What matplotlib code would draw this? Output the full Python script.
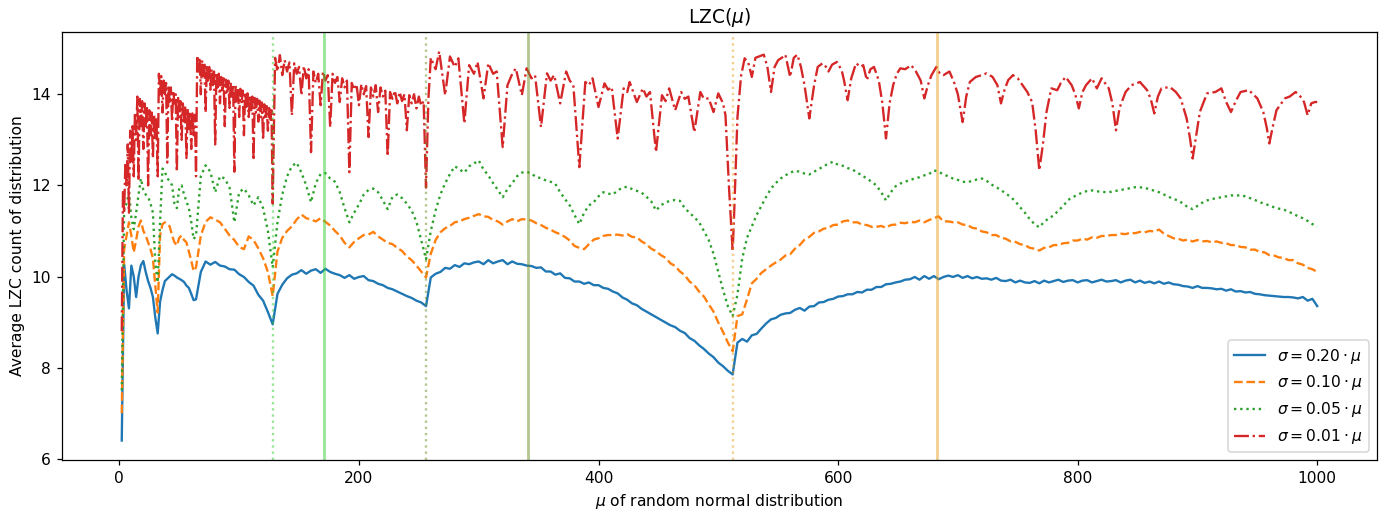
import numpy as np
import matplotlib
matplotlib.use("Agg")
import matplotlib.pyplot as plt

# ---- x grid for the three smoother series ----
grid_mu = list(range(2, 64, 2)) + list(range(64, 1001, 4))

sigma20 = [
    6.4, 10.27, 9.7, 9.3, 10.24, 10.0, 9.55, 10.0, 10.25, 10.34,
    10.1, 9.9, 9.75, 9.55, 9.1, 8.75, 9.45, 9.7, 9.9, 9.95,
    10.0, 10.05, 10.02, 9.98, 9.95, 9.92, 9.88, 9.8, 9.75, 9.62,
    9.48,
    9.5, 10.1, 10.33, 10.26, 10.32, 10.24, 10.22, 10.16, 10.15, 10.05,
    9.99, 9.88, 9.8, 9.6, 9.47, 9.22, 8.95, 9.62, 9.82, 9.96,
    10.04, 10.07, 10.14, 10.06, 10.13, 10.16, 10.08, 10.17, 10.1, 10.06,
    10.03, 9.97, 10.03, 9.95, 9.99, 10.01, 9.92, 9.9, 9.84, 9.81,
    9.75, 9.72, 9.67, 9.62, 9.57, 9.53, 9.47, 9.43, 9.35, 9.98,
    10.06, 10.1, 10.19, 10.17, 10.25, 10.21, 10.29, 10.27, 10.31, 10.33,
    10.27, 10.36, 10.29, 10.33, 10.36, 10.27, 10.33, 10.28, 10.27, 10.24,
    10.23, 10.19, 10.2, 10.11, 10.11, 10.04, 10.07, 9.97, 9.96, 9.89,
    9.89, 9.84, 9.87, 9.81, 9.81, 9.75, 9.73, 9.67, 9.63, 9.54,
    9.49, 9.41, 9.37, 9.29, 9.23, 9.17, 9.11, 9.05, 8.99, 8.93,
    8.89, 8.81, 8.76, 8.65, 8.59, 8.49, 8.41, 8.31, 8.23, 8.11,
    8.03, 7.93, 7.85, 8.55, 8.63, 8.57, 8.71, 8.74, 8.86, 8.97,
    9.06, 9.09, 9.16, 9.19, 9.2, 9.27, 9.31, 9.25, 9.34, 9.35,
    9.43, 9.44, 9.49, 9.51, 9.56, 9.57, 9.61, 9.61, 9.66, 9.65,
    9.71, 9.71, 9.77, 9.77, 9.83, 9.84, 9.87, 9.89, 9.93, 9.94,
    9.99, 9.93, 10.01, 9.95, 10.01, 9.94, 9.99, 10.02, 9.99, 10.03,
    9.97, 10.01, 9.96, 9.99, 9.95, 9.96, 9.93, 9.97, 9.91, 9.9,
    9.93, 9.87, 9.91, 9.87, 9.86, 9.9, 9.85, 9.91, 9.87, 9.9,
    9.93, 9.88, 9.91, 9.92, 9.87, 9.91, 9.92, 9.87, 9.9, 9.93,
    9.89, 9.9, 9.92, 9.87, 9.91, 9.93, 9.87, 9.91, 9.86, 9.89,
    9.85, 9.89, 9.84, 9.87, 9.83, 9.82, 9.79, 9.78, 9.75, 9.79,
    9.75, 9.75, 9.74, 9.72, 9.73, 9.69, 9.72, 9.67, 9.68, 9.65,
    9.66, 9.62, 9.61, 9.59, 9.58, 9.57, 9.56, 9.55, 9.55, 9.54,
    9.52, 9.55, 9.47, 9.51, 9.35,
]

sigma10 = [
    7.0, 10.6, 10.9, 11.19, 10.9, 10.53, 10.8, 11.1, 11.23, 11.0,
    10.9, 10.75, 10.6, 10.4, 9.8, 9.21, 10.9, 11.15, 11.19, 11.15,
    11.1, 10.9, 10.75, 10.68, 10.85, 10.9, 10.8, 10.75, 10.55, 10.35,
    10.12,
    10.2, 10.9, 11.2, 11.3, 11.25, 11.19, 11.05, 10.9, 10.8, 10.65,
    10.6, 10.88, 10.8, 10.62, 10.4, 10.1, 9.57, 10.55, 10.85, 11.0,
    11.1, 11.25, 11.36, 11.28, 11.25, 11.21, 11.28, 11.2, 11.12, 11.0,
    10.9, 10.74, 10.64, 10.76, 10.84, 10.91, 10.92, 10.98, 10.88, 10.81,
    10.74, 10.71, 10.63, 10.56, 10.44, 10.36, 10.24, 10.11, 9.98, 10.5,
    10.8, 10.97, 11.06, 11.11, 11.19, 11.21, 11.26, 11.29, 11.33, 11.37,
    11.32, 11.31, 11.24, 11.21, 11.14, 11.21, 11.26, 11.21, 11.26, 11.25,
    11.23, 11.17, 11.13, 11.07, 11.03, 10.97, 10.93, 10.87, 10.79, 10.67,
    10.63, 10.6, 10.71, 10.81, 10.84, 10.89, 10.91, 10.91, 10.92, 10.9,
    10.93, 10.87, 10.86, 10.77, 10.71, 10.61, 10.56, 10.47, 10.41, 10.29,
    10.23, 10.11, 10.03, 9.89, 9.81, 9.67, 9.56, 9.39, 9.23, 8.99,
    8.78, 8.55, 8.36, 9.13, 9.17, 9.5, 9.85, 9.95, 10.08, 10.16,
    10.24, 10.31, 10.37, 10.46, 10.49, 10.61, 10.69, 10.81, 10.87, 10.96,
    10.99, 11.05, 11.07, 11.13, 11.14, 11.21, 11.23, 11.19, 11.19, 11.14,
    11.13, 11.09, 11.09, 11.11, 11.07, 11.13, 11.14, 11.18, 11.17, 11.2,
    11.19, 11.23, 11.19, 11.24, 11.28, 11.32, 11.21, 11.21, 11.19, 11.19,
    11.14, 11.13, 11.07, 11.05, 10.99, 10.97, 10.91, 10.91, 10.85, 10.83,
    10.77, 10.76, 10.71, 10.69, 10.63, 10.61, 10.57, 10.63, 10.64, 10.69,
    10.69, 10.73, 10.74, 10.79, 10.79, 10.83, 10.81, 10.86, 10.85, 10.89,
    10.89, 10.91, 10.91, 10.94, 10.93, 10.96, 10.95, 10.98, 10.97, 11.0,
    10.99, 11.03, 10.94, 10.89, 10.84, 10.83, 10.79, 10.81, 10.77, 10.8,
    10.77, 10.78, 10.75, 10.77, 10.74, 10.73, 10.69, 10.69, 10.65, 10.64,
    10.59, 10.59, 10.54, 10.53, 10.47, 10.46, 10.42, 10.41, 10.36, 10.36,
    10.29, 10.26, 10.19, 10.16, 10.1,
]

sigma05 = [
    7.5, 11.5, 11.6, 11.85, 11.3, 11.04, 11.4, 11.8, 12.15, 11.9,
    11.8, 11.75, 11.6, 11.4, 10.3, 9.87, 11.2, 12.37, 12.3, 12.15,
    12.1, 12.0, 11.6, 11.5, 11.95, 12.0, 11.8, 11.65, 11.5, 11.2,
    10.82,
    10.9, 12.2, 12.44, 12.3, 11.85, 12.2, 12.15, 11.95, 11.19, 11.85,
    11.93, 11.78, 11.56, 11.74, 11.5, 11.0, 10.2, 11.2, 11.8, 12.2,
    12.42, 12.5, 12.28, 12.0, 11.63, 12.05, 12.25, 12.27, 12.15, 12.08,
    11.85, 11.5, 11.19, 11.4, 11.58, 11.8, 11.9, 11.93, 11.85, 11.67,
    11.48, 11.75, 11.8, 11.72, 11.6, 11.45, 11.2, 10.8, 10.38, 11.0,
    11.45, 11.8, 12.05, 12.25, 12.42, 12.35, 12.28, 12.42, 12.48, 12.55,
    12.35, 12.22, 12.05, 11.9, 11.74, 11.92, 12.05, 12.2, 12.28, 12.3,
    12.26, 12.18, 12.16, 12.11, 12.08, 12.03, 11.85, 11.7, 11.56, 11.35,
    11.15, 11.4, 11.56, 11.63, 11.76, 11.85, 11.82, 11.8, 11.89, 11.95,
    11.97, 11.92, 11.88, 11.84, 11.75, 11.65, 11.45, 11.56, 11.63, 11.66,
    11.68, 11.66, 11.5, 11.4, 11.3, 11.19, 11.0, 10.8, 10.5, 10.1,
    9.7, 9.35, 9.13, 9.6, 10.4, 10.85, 11.1, 11.35, 11.55, 11.75,
    11.93, 12.05, 12.15, 12.22, 12.28, 12.32, 12.3, 12.26, 12.24, 12.3,
    12.36, 12.42, 12.48, 12.52, 12.45, 12.43, 12.38, 12.35, 12.28, 12.22,
    12.15, 12.08, 12.0, 11.85, 11.67, 11.85, 11.98, 12.04, 12.08, 12.12,
    12.15, 12.18, 12.22, 12.25, 12.33, 12.3, 12.24, 12.2, 12.15, 12.12,
    12.08, 12.07, 12.1, 12.13, 12.15, 12.1, 12.02, 11.96, 11.9, 11.82,
    11.75, 11.65, 11.52, 11.4, 11.26, 11.15, 11.08, 11.2, 11.28, 11.34,
    11.45, 11.55, 11.68, 11.74, 11.8, 11.84, 11.88, 11.89, 11.87, 11.86,
    11.85, 11.86, 11.88, 11.9, 11.92, 11.94, 11.96, 11.96, 11.94, 11.92,
    11.88, 11.85, 11.8, 11.75, 11.7, 11.67, 11.6, 11.52, 11.48, 11.55,
    11.62, 11.67, 11.7, 11.72, 11.74, 11.76, 11.78, 11.78, 11.78, 11.76,
    11.72, 11.68, 11.63, 11.6, 11.56, 11.52, 11.49, 11.47, 11.42, 11.38,
    11.32, 11.28, 11.22, 11.15, 11.1,
]

# ---- sigma = 0.01 * mu : own, denser sampling ----
red_mu_a = list(range(2, 65))
red_a = [
    8.8, 11.9, 11.4, 12.5, 12.0, 12.9, 11.4, 13.2, 12.5, 13.3,
    12.2, 13.6, 13.0, 13.95, 12.1, 13.9, 13.3, 13.85, 12.8, 13.8,
    13.3, 13.75, 12.0, 13.65, 13.1, 13.6, 12.6, 13.55, 13.0, 13.5,
    12.2, 14.45, 14.0, 14.4, 13.6, 14.3, 14.0, 14.25, 12.5, 14.2,
    13.8, 14.15, 13.4, 14.08, 13.8, 14.0, 12.3, 13.95, 13.5, 13.85,
    13.0, 13.8, 13.4, 13.75, 12.6, 13.68, 13.2, 13.62, 12.8, 13.58,
    13.1, 13.55, 12.2,
]
red_mu_b = list(range(65, 128))
red_b = [
    14.85, 14.5, 14.8, 14.0, 14.75, 14.4, 14.7, 13.6, 14.65, 14.3,
    14.6, 14.1, 14.55, 14.2, 14.5, 12.9, 14.48, 14.15, 14.45, 13.8,
    14.38, 14.05, 14.35, 13.3, 14.32, 14.0, 14.3, 13.7, 14.26, 13.95,
    14.22, 12.3, 14.2, 13.85, 14.15, 13.5, 14.12, 13.8, 14.08, 13.1,
    14.05, 13.72, 14.02, 13.5, 13.98, 13.65, 13.95, 12.55, 13.92, 13.6,
    13.9, 13.4, 13.86, 13.5, 13.82, 13.0, 13.78, 13.45, 13.74, 13.2,
    13.7, 13.4, 13.65,
]
red_mu_c = list(range(128, 257, 2))
red_c = [
    11.6, 14.8, 14.5, 14.86, 14.42, 14.75, 14.5, 14.7, 13.54, 14.68,
    14.45, 14.6, 13.98, 14.62, 14.35, 14.55, 12.73, 14.5, 14.25, 14.45,
    13.76, 14.5, 14.3, 14.42, 13.28, 14.45, 14.25, 14.38, 13.83, 14.35,
    14.15, 14.3, 12.29, 14.25, 14.1, 14.22, 13.76, 14.22, 14.0, 14.18,
    13.06, 14.15, 13.95, 14.2, 13.61, 14.15, 13.95, 14.08, 12.64, 14.05,
    13.9, 14.08, 13.8, 14.05, 13.85, 14.0, 13.21, 13.98, 13.8, 14.0,
    13.69, 13.95, 13.75, 13.85, 11.95,
]
red_tail = [
    (258, 13.9), (260, 14.8), (264, 14.55), (267, 14.94), (272, 13.98), (276, 14.83), (280, 14.6), (283, 14.79), (288, 13.36), (292, 14.64),
    (296, 14.45), (299, 14.71), (304, 13.91), (308, 14.68), (312, 14.45), (315, 14.5), (320, 12.84), (324, 14.2), (328, 14.45), (331, 14.57),
    (336, 13.98), (340, 14.57), (344, 14.35), (347, 14.42), (352, 13.28), (357, 14.46), (360, 14.3), (363, 14.42), (368, 13.8), (373, 14.5),
    (376, 14.3), (379, 14.2), (384, 12.4), (389, 14.27), (392, 14.2), (395, 14.35), (400, 13.72), (405, 14.24), (408, 14.1), (411, 14.16),
    (416, 13.03), (421, 14.13), (424, 14.05), (426, 14.27), (432, 13.83), (437, 14.13), (440, 13.95), (443, 14.05), (448, 12.73), (453, 13.98),
    (456, 13.85), (459, 14.13), (464, 13.65), (469, 14.05), (472, 13.9), (475, 13.95), (480, 13.17), (485, 14.05), (488, 13.9), (492, 13.91),
    (496, 13.61), (500, 14.02), (504, 13.8), (506, 13.54), (509, 11.93), (512, 10.55),
    (513, 11.2), (516, 13.5), (519, 14.4), (522, 14.79), (525, 14.7), (528, 14.38), (531, 14.8), (534, 14.83), (538, 14.87), (541, 14.6),
    (544, 14.05), (547, 14.6), (550, 14.75), (553, 14.8), (556, 14.87), (560, 14.38), (563, 14.8), (566, 14.87), (569, 14.6), (572, 14.2),
    (576, 13.47), (580, 14.2), (583, 14.6), (587, 14.68), (590, 14.6), (592, 14.5), (595, 14.65), (599, 14.71), (603, 14.53), (605, 14.3),
    (608, 13.87), (611, 14.35), (615, 14.68), (619, 14.6), (621, 14.64), (624, 14.31), (627, 14.55), (630, 14.6), (634, 14.3), (637, 13.8),
    (640, 13.03), (643, 13.8), (646, 14.2), (649, 14.45), (652, 14.57), (656, 14.55), (661, 14.64), (665, 14.5), (669, 14.3), (672, 13.91),
    (675, 14.2), (678, 14.42), (682, 14.6), (685, 14.45), (688, 14.42), (693, 14.5), (697, 14.25), (700, 14.0), (704, 13.39), (707, 13.95),
    (710, 14.27), (715, 14.38), (720, 14.42), (724, 14.46), (729, 14.38), (733, 14.2), (736, 13.8), (739, 14.1), (742, 14.31), (746, 14.42),
    (750, 14.35), (754, 14.2), (758, 14.05), (762, 13.83), (765, 13.2), (768, 12.33), (771, 12.9), (774, 13.61), (778, 14.13), (783, 14.09),
    (786, 14.25), (790, 14.38), (795, 14.2), (798, 14.0), (801, 13.69), (804, 14.05), (807, 14.2), (812, 14.35), (816, 14.13), (820, 14.35),
    (826, 14.13), (829, 13.8), (832, 13.21), (835, 13.7), (840, 14.05), (845, 14.2), (852, 14.27), (858, 14.09), (861, 13.9), (864, 13.58),
    (867, 13.95), (870, 14.13), (877, 14.16), (882, 14.05), (886, 13.91), (891, 13.47), (894, 13.0), (896, 12.59), (899, 13.1), (902, 13.61),
    (908, 14.02), (915, 14.05), (920, 14.13), (924, 13.83), (928, 13.61), (932, 13.85), (936, 14.05), (943, 14.09), (950, 13.91), (955, 13.61),
    (958, 13.25), (960, 12.92), (963, 13.3), (966, 13.65), (973, 13.91), (977, 13.95), (982, 14.05), (986, 13.95), (989, 13.83), (992, 13.54),
    (995, 13.8), (998, 13.83), (1000, 13.83),
]

labels = [r"$\sigma = 0.20 \cdot \mu$", r"$\sigma = 0.10 \cdot \mu$",
          r"$\sigma = 0.05 \cdot \mu$", r"$\sigma = 0.01 \cdot \mu$"]

# reference positions: powers of two (dotted) and 2/3 of the next power (solid)
ref_pow2 = [128, 256, 512]
ref_two_thirds = [512 / 3, 1024 / 3, 2048 / 3]
ref_colors = ["limegreen", "olivedrab", "#e6a020"]

assert len(grid_mu) == len(sigma20) == len(sigma10) == len(sigma05)
assert len(red_mu_a) == len(red_a) and len(red_mu_b) == len(red_b) and len(red_mu_c) == len(red_c)

red_mu = red_mu_a + red_mu_b + red_mu_c + [p[0] for p in red_tail]
red_val = red_a + red_b + red_c + [p[1] for p in red_tail]

DPI = 112
fig = plt.figure(figsize=(1393 / DPI, 512 / DPI), dpi=DPI)
ax = fig.add_axes([0.0445, 0.1016, 0.944, 0.8359])

ax.plot(grid_mu, sigma20, "-", color="C0", lw=1.5, label=labels[0])
ax.plot(grid_mu, sigma10, "--", color="C1", lw=1.5, label=labels[1])
ax.plot(grid_mu, sigma05, ":", color="C2", lw=1.5, label=labels[2])
ax.plot(red_mu, red_val, "-.", color="C3", lw=1.5, label=labels[3])

for p, s, c in zip(ref_pow2, ref_two_thirds, ref_colors):
    ax.axvline(p, color=c, ls=":", lw=1.5, alpha=0.5)
    ax.axvline(s, color=c, ls="-", lw=1.8, alpha=0.5)

ax.set_title(r"LZC($\mu$)")
ax.set_xlabel(r"$\mu$ of random normal distribution")
ax.set_ylabel("Average LZC count of distribution")
ax.legend(loc="lower right")

fig.savefig("out.png", dpi=DPI)
